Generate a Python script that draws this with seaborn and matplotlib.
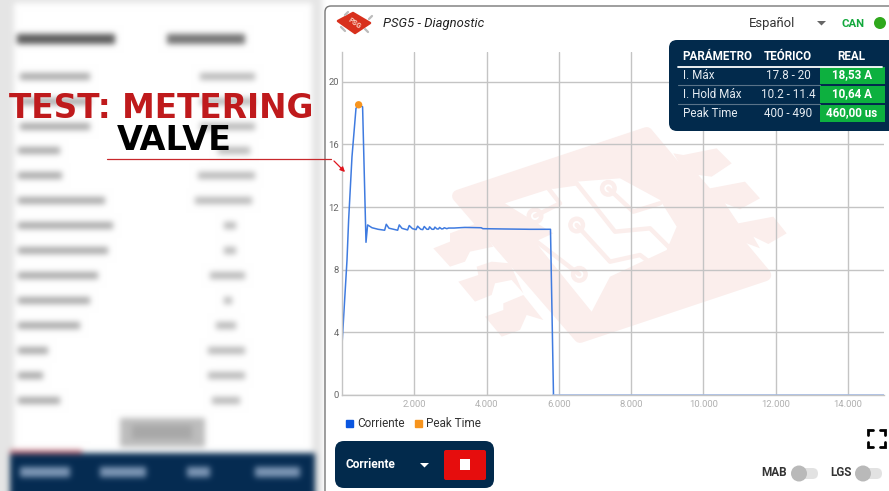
import numpy as np
import pandas as pd
import seaborn as sns
import matplotlib.pyplot as plt
from matplotlib.patches import Circle, FancyBboxPatch, Polygon, Rectangle, Patch

# current trace
time_us = [0, 138, 184, 276, 387, 460, 570, 664, 709, 830, 1000, 1180, 1225, 1300, 1540, 1585, 1660,
           1815, 1861, 1950, 2050, 2092, 2180, 2235, 2276, 2350, 2395, 2424, 2490, 2540, 2571, 2630,
           2670, 2700, 2760, 2800, 2830, 2900, 2950, 3100, 3400, 3850, 3900, 4500, 5200, 5770, 5853, 15000]
current_a = [3.2, 8.6, 11.2, 15.2, 18.3, 18.53, 18.4, 9.75, 10.86, 10.68, 10.58, 10.52, 10.9, 10.65,
             10.52, 10.86, 10.64, 10.54, 10.82, 10.62, 10.56, 10.78, 10.58, 10.56, 10.76, 10.58, 10.58,
             10.74, 10.58, 10.58, 10.72, 10.6, 10.6, 10.7, 10.6, 10.62, 10.68, 10.62, 10.66, 10.66,
             10.7, 10.68, 10.62, 10.6, 10.58, 10.58, 0, 0]
peak_time = [460]
peak_current = [18.53]

x_ticks = [2000, 4000, 6000, 8000, 10000, 12000, 14000]
x_labels = ['2.000', '4.000', '6.000', '8.000', '10.000', '12.000', '14.000']
y_ticks = [0, 4, 8, 12, 16, 20]

table_header = ['PARÁMETRO', 'TEÓRICO', 'REAL']
table_names = ['I. Máx', 'I. Hold Máx', 'Peak Time']
table_theory = ['17.8 - 20', '10.2 - 11.4', '400 - 490']
table_real = ['18,53 A', '10,64 A', '460,00 us']

NAVY = '#022a4c'
W, H = 889, 491

sns.set_style('whitegrid')
plt.rcParams['font.family'] = ['Roboto', 'DejaVu Sans']

fig = plt.figure(figsize=(W / 100, H / 100), dpi=100, facecolor='white')


def pixel_axes(z):
    a = fig.add_axes([0, 0, 1, 1], zorder=z)
    a.set_xlim(0, W)
    a.set_ylim(H, 0)
    a.axis('off')
    a.patch.set_alpha(0)
    return a


def box(a, x0, y0, x1, y1, r, color, **kw):
    a.add_patch(FancyBboxPatch((x0 + r, y0 + r), x1 - x0 - 2 * r, y1 - y0 - 2 * r,
                               boxstyle=f'round,pad={r}', fc=color, ec='none', **kw))


# blurred phone screen on the left
def blurred_panel():
    img = np.ones((H, 330, 3)) * 0.9
    img[3:, 14:312] = 1.0
    img[:, 322:] = 1.0
    rows = [(76, 20, 90, 200, 255), (101, 20, 90, 200, 255), (126, 20, 90, 200, 255),
            (150, 18, 60, 218, 250), (175, 18, 62, 198, 255), (200, 18, 105, 195, 252),
            (225, 18, 113, 224, 236), (250, 18, 108, 224, 236), (275, 18, 98, 210, 245),
            (300, 18, 90, 224, 232), (325, 18, 80, 216, 236), (350, 18, 48, 208, 245),
            (375, 18, 43, 208, 245), (400, 18, 60, 212, 240)]
    for y, a0, a1, b0, b1 in rows:
        img[y - 3:y + 4, a0:a1] = 0.66
        img[y - 3:y + 4, b0:b1] = 0.72
    img[34:44, 17:115] = 0.35
    img[34:44, 167:245] = 0.45
    img[418:447, 120:205] = 0.74
    img[425:439, 132:192] = 0.66
    img[453:, 10:315] = [0.02, 0.17, 0.32]
    img[450:454, 10:82] = [0.75, 0.4, 0.45]
    for x0, x1 in [(20, 70), (100, 146), (187, 210), (255, 300)]:
        img[467:477, x0:x1] = [0.5, 0.6, 0.72]
    kernel = np.exp(-np.arange(-9, 10) ** 2 / (2 * 3.0 ** 2))
    kernel /= kernel.sum()
    for axis in (0, 1):
        pad = [(0, 0)] * 3
        pad[axis] = (9, 9)
        img = np.apply_along_axis(lambda v: np.convolve(v, kernel, mode='valid'), axis,
                                  np.pad(img, pad, mode='edge'))
    return img


bg = pixel_axes(0)
bg.imshow(blurred_panel(), extent=(0, 330, H, 0), aspect='auto', interpolation='bilinear')
bg.set_xlim(0, W)
bg.set_ylim(H, 0)
bg.add_patch(FancyBboxPatch((331, 12), 600, 600, boxstyle='round,pad=6', fc='white', ec='#777777', lw=1))


# pale chip watermark, given in the pixels of a 3x crop
def wm(pts):
    return [(420 + x / 3, 120 + y / 3) for x, y in pts]


PINK = '#fbeeec'
bg.add_patch(Polygon(wm([(115, 228), (680, 40), (1035, 465), (480, 650)]), fc=PINK, ec=PINK, lw=9, joinstyle='round'))
for leg in [[(760, 100), (790, 105), (890, 85), (935, 130), (875, 170), (835, 165), (870, 205), (975, 185),
             (1020, 235), (960, 268), (915, 250), (955, 310), (1060, 290), (1100, 340), (1045, 372),
             (1000, 350), (1020, 385), (900, 340)],
            [(40, 385), (90, 365), (90, 340), (170, 310), (220, 380), (150, 395), (135, 425), (90, 440)],
            [(115, 485), (175, 465), (170, 440), (215, 425), (270, 430), (310, 520), (275, 480), (225, 490),
             (215, 525), (165, 545)],
            [(195, 590), (250, 570), (250, 550), (310, 525), (370, 600), (320, 585), (300, 630), (245, 650)]]:
    bg.add_patch(Polygon(wm(leg), fc=PINK, ec='none'))
bg.add_patch(Polygon(wm([(255, 250), (380, 210), (470, 185), (600, 175), (720, 240), (770, 320),
                         (740, 390), (570, 470), (515, 575), (345, 365), (400, 340)]), fc='white', ec='none'))
for trace_pts in [[(400, 200), (470, 190), (585, 335), (690, 325), (750, 385)],
                  [(565, 205), (640, 275), (720, 250)],
                  [(470, 315), (570, 425), (660, 405), (700, 435)],
                  [(345, 288), (420, 250), (385, 205)],
                  [(478, 463), (350, 365), (300, 290)]]:
    xs, ys = zip(*wm(trace_pts))
    bg.plot(xs, ys, color=PINK, lw=3.2, solid_capstyle='round')
for cx, cy in [(565, 205), (470, 315), (345, 288), (478, 463)]:
    px, py = wm([(cx, cy)])[0]
    bg.add_patch(Circle((px, py), 8.5, fc=PINK, ec='none'))
    bg.add_patch(Circle((px, py), 4, fc='white', ec='none'))

# chart
L, R, T, B = 342, 884, 52, 395
ax = fig.add_axes([L / W, 1 - B / H, (R - L) / W, (B - T) / H], zorder=1)
ax.patch.set_alpha(0)
trace = pd.DataFrame({'time': time_us, 'current': current_a})
sns.lineplot(data=trace.iloc[:-1], x='time', y='current', estimator=None, sort=False, color='#3f7be0', lw=1.1, ax=ax)
sns.lineplot(data=trace.iloc[-2:], x='time', y='current', estimator=None, sort=False, color='#9bb8ea', lw=1.1, ax=ax)
sns.scatterplot(x=peak_time, y=peak_current, color='#f7941d', s=28, edgecolor='none', zorder=5, ax=ax)
ax.set_xlim(0, 15000)
ax.set_ylim(0, 21.9)
ax.set_xticks(x_ticks, x_labels)
ax.set_yticks(y_ticks)
ax.set_xlabel('')
ax.set_ylabel('')
ax.grid(True, color='#c4c4c4', lw=1)
ax.tick_params(axis='x', labelsize=6.8, labelcolor='#b0b0b0', length=0, pad=3.5)
ax.tick_params(axis='y', labelsize=6.8, labelcolor='#666666', length=0, pad=2)
for s in ('top', 'right'):
    ax.spines[s].set_visible(False)
for s in ('left', 'bottom'):
    ax.spines[s].set_color('#c4c4c4')
    ax.spines[s].set_linewidth(1)
ax.legend(handles=[Patch(color='#0a56e0', label='Corriente'), Patch(color='#f7941d', label='Peak Time')],
          loc='upper left', bbox_to_anchor=(0.0075, -0.0655), ncol=2, frameon=False, fontsize=8.5,
          handlelength=0.6, handleheight=0.6, handletextpad=0.35, columnspacing=0.85, borderpad=0,
          borderaxespad=0, labelcolor='#333333')

fg = pixel_axes(2)

# header
for x0, y0, x1, y1 in [(341, 27, 345, 31), (345, 15, 348, 12), (365, 29, 368, 32), (369, 19, 372, 16)]:
    fg.plot([x0, x1], [y0, y1], color='#bbbbbb', lw=1.6)
fg.add_patch(Polygon([(338, 21), (353, 13), (370, 23), (355, 33)], fc='#d8301c', ec='#d8301c', lw=1.8, joinstyle='round'))
fg.text(354, 23, 'PSG', fontsize=5.2, weight='bold', color='#f9d6c8', rotation=-35, ha='center', va='center')
fg.text(383, 23.5, 'PSG5 - Diagnostic', fontsize=9.4, style='italic', color='#222222', va='center')
fg.text(749, 23.5, 'Español', fontsize=9.4, color='#333333', va='center')
fg.add_patch(Polygon([(817, 21), (826, 21), (821.5, 25.5)], fc='#666666', ec='none'))
fg.text(841, 23.5, 'CAN', fontsize=8.2, weight='bold', color='#12a83c', va='center')
fg.add_patch(Circle((880, 23), 6, fc='#2fa81c', ec='none'))

# results table
box(fg, 669, 40, 910, 131, 8, NAVY)
for txt, x, ha in zip(table_header, (682, 788, 851), ('left', 'center', 'center')):
    fg.text(x, 56, txt, fontsize=8.4, weight='bold', color='white', ha=ha, va='center')
fg.plot([678, 882], [66.5, 66.5], color='white', lw=1.3)
for i, yc in enumerate((75, 94, 113)):
    fg.add_patch(Rectangle((820, yc - 8), 65, 16.5, fc='#0db03f', ec='none'))
    fg.text(683, yc, table_names[i], fontsize=8.4, color='#e6ecf2', va='center')
    fg.text(788, yc, table_theory[i], fontsize=8.4, color='#e6ecf2', ha='center', va='center')
    fg.text(852, yc, table_real[i], fontsize=8.4, weight='bold', color='white', ha='center', va='center')
    if i < 2:
        fg.plot([678, 820], [yc + 9.5, yc + 9.5], color='#5a7389', lw=0.8)

# bottom controls
box(fg, 335, 441, 494, 488, 9, NAVY)
fg.text(346, 465, 'Corriente', fontsize=8.6, weight='bold', color='white', va='center')
fg.add_patch(Polygon([(420, 463), (429, 463), (424.5, 467.5)], fc='white', ec='none'))
box(fg, 444, 450, 486, 480, 2, '#e60d0d')
fg.add_patch(Rectangle((460, 459), 10, 11, fc='white', ec='none'))
for x, y, dx, dy in [(868, 430, 1, 1), (885, 430, -1, 1), (868, 447, 1, -1), (885, 447, -1, -1)]:
    fg.plot([x + 5 * dx, x, x], [y, y, y + 5 * dy], color='black', lw=2, solid_joinstyle='miter')
for label, tx, knob, end in [('MAB', 761, 799, 816), ('LGS', 830, 863, 880)]:
    fg.text(tx, 473, label, fontsize=8.5, weight='bold', color='#333333', va='center')
    box(fg, knob - 2, 468, end + 2, 479, 5.5, '#e2e2e2')
    fg.add_patch(Circle((knob, 473.5), 8, fc='#b9b9b9', ec='none'))

# overlay title and arrow
fg.text(161.5, 108, 'TEST: METERING', fontsize=23.6, weight='bold', family='DejaVu Sans', color='#bf1a1c', ha='center', va='center')
fg.text(174, 141, 'VALVE', fontsize=24, weight='bold', family='DejaVu Sans', color='black', ha='center', va='center')
fg.plot([107, 331], [159, 159], color='#c8282c', lw=0.9)
fg.annotate('', xy=(345, 172), xytext=(334, 161),
            arrowprops=dict(arrowstyle='-|>', color='#e0141c', lw=0.9, mutation_scale=7, shrinkA=0, shrinkB=0))

fig.savefig('out.png', dpi=100)
